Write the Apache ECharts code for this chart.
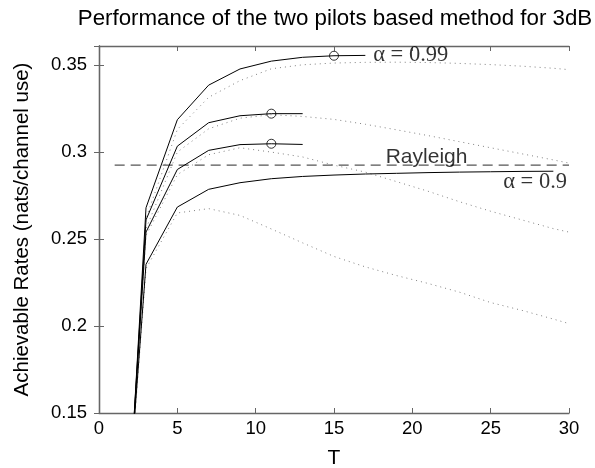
<!DOCTYPE html>
<html>
<head>
<meta charset="utf-8">
<script src="https://cdn.jsdelivr.net/npm/echarts@6/dist/echarts.min.js"></script>
<style>html,body{margin:0;padding:0;background:#fff}#c{width:595px;height:468px}</style>
</head>
<body>
<div id="c"></div>
<script>
// ---- data ----
const xTicks = [0, 5, 10, 15, 20, 25, 30];
const yTicks = [0.15, 0.2, 0.25, 0.3, 0.35];

const T_A = [2, 3, 5, 7, 9, 11, 13, 15, 17];
const solidA = [0.110, 0.268, 0.3186, 0.3385, 0.3478, 0.3523, 0.3545, 0.3554, 0.3556];
const T_B = [2, 3, 5, 7, 9, 11, 13];
const solidB = [0.112, 0.261, 0.3034, 0.3169, 0.3209, 0.3221, 0.3221];
const T_C = [2, 3, 5, 7, 9, 11, 13];
const solidC = [0.113, 0.254, 0.2900, 0.3010, 0.3043, 0.3048, 0.3044];
const T_D = [2, 3, 5, 7, 9, 11, 13, 15, 17, 19, 21, 23, 25, 27, 29];
const solidD = [0.115, 0.2355, 0.2684, 0.2786, 0.2824, 0.2847, 0.2860, 0.2868, 0.2874, 0.2878, 0.2882, 0.2885, 0.2887, 0.2889, 0.2890];

const T_dot = [2, 3, 5, 7, 9, 11, 13, 15, 17, 19, 21, 23, 25, 27, 29, 30];
const dotted1 = [0.108, 0.262, 0.313, 0.3315, 0.3411, 0.3479, 0.3502, 0.3512, 0.3516, 0.3517, 0.3515, 0.3510, 0.3503, 0.3494, 0.3482, 0.3474];
const dotted2 = [0.110, 0.256, 0.300, 0.3134, 0.3195, 0.3215, 0.3205, 0.3188, 0.3160, 0.3128, 0.3095, 0.3060, 0.3025, 0.2990, 0.2955, 0.2937];
const dotted3 = [0.112, 0.252, 0.287, 0.2985, 0.3025, 0.3000, 0.2972, 0.2925, 0.2885, 0.2830, 0.2775, 0.2715, 0.2660, 0.2610, 0.2560, 0.2540];
const dotted4 = [0.113, 0.233, 0.2650, 0.2675, 0.2636, 0.2558, 0.2478, 0.2400, 0.2340, 0.2290, 0.2245, 0.2195, 0.2135, 0.2090, 0.2040, 0.2014];

const T_ray = [1, 30];
const rayleigh = [0.2925, 0.2925];

const circleT = [15, 11, 11];
const circleY = [0.3554, 0.3221, 0.3048];

const annoText = ['α = 0.99', 'Rayleigh', 'α = 0.9'];
const annoT = [17.5, 18.3, 25.8];
const annoY = [0.3557, 0.2972, 0.2828];

// ---- chart ----
const pairs = (xs, ys) => xs.map((x, i) => [x, ys[i]]);
const chart = echarts.init(document.getElementById('c'), null, {renderer: 'canvas'});
const axisCol = '#666';
const sans = '"Liberation Sans", Arial, sans-serif';
const serif = '"Liberation Serif", "Times New Roman", serif';
const near = (v, arr) => arr.some(t => Math.abs(t - v) < 1e-6);
const fmtY = v => near(v, yTicks) ? String(Math.round(v * 100) / 100) : '';

const solid = (xs, ys) => ({type: 'line', data: pairs(xs, ys), symbol: 'none', silent: true,
  lineStyle: {color: '#000', width: 1}, z: 3});
const dot = (ys) => ({type: 'line', data: pairs(T_dot, ys), symbol: 'none', silent: true,
  lineStyle: {color: '#808080', width: 1, type: [1, 4]}, z: 2});

chart.setOption({
  animation: false,
  title: {text: 'Performance of the two pilots based method for 3dB', left: 330, top: 3, textAlign: 'center',
    textStyle: {fontFamily: sans, fontSize: 22.3, fontWeight: 'normal', color: '#000'}},
  grid: {left: 99, right: 26, top: 46, bottom: 55, show: false, containLabel: false, outerBoundsMode: 'none'},
  xAxis: [{type: 'value', min: 0, max: 30, interval: 5, position: 'bottom',
      name: 'T', nameLocation: 'middle', nameGap: 35,
      nameTextStyle: {fontFamily: sans, fontSize: 21, color: '#000'},
      axisLine: {lineStyle: {color: axisCol, width: 1.3}},
      axisTick: {inside: true, length: 5, lineStyle: {color: axisCol}},
      axisLabel: {fontFamily: sans, fontSize: 18.5, color: '#000', margin: 6},
      splitLine: {show: false}},
    {type: 'value', min: 0, max: 30, interval: 5, position: 'top',
      axisLine: {lineStyle: {color: axisCol, width: 1.3}},
      axisTick: {inside: true, length: 5, lineStyle: {color: axisCol}},
      axisLabel: {show: false}, splitLine: {show: false}}],
  yAxis: [{type: 'value', min: 0.15, max: 0.361, interval: 0.05, position: 'left',
      name: 'Achievable Rates (nats/channel use)', nameLocation: 'middle', nameGap: 66,
      nameTextStyle: {fontFamily: sans, fontSize: 20.5, color: '#000'},
      axisLine: {show: true, lineStyle: {color: axisCol, width: 1.3}},
      axisTick: {show: true, inside: true, length: 5, lineStyle: {color: axisCol}},
      axisLabel: {fontFamily: sans, fontSize: 18.5, color: '#000', margin: 12, formatter: fmtY},
      splitLine: {show: false}},
    {type: 'value', min: 0.15, max: 0.361, interval: 0.05, position: 'right',
      axisLine: {show: true, lineStyle: {color: axisCol, width: 1.3}},
      axisTick: {show: true, inside: true, length: 5, lineStyle: {color: axisCol}},
      axisLabel: {show: false}, splitLine: {show: false}}],
  series: [
    dot(dotted1), dot(dotted2), dot(dotted3), dot(dotted4),
    solid(T_A, solidA), solid(T_B, solidB), solid(T_C, solidC), solid(T_D, solidD),
    {type: 'line', data: pairs(T_ray, rayleigh), symbol: 'none', silent: true,
      lineStyle: {color: '#555', width: 1.3, type: [10, 6]}, z: 2},
    {type: 'scatter', data: pairs(circleT, circleY), symbol: 'circle', symbolSize: 9, silent: true,
      itemStyle: {color: 'rgba(0,0,0,0)', borderColor: '#000', borderWidth: 1}, z: 5},
    {type: 'scatter', data: annoT.map((t, i) => ({value: [t, annoY[i]], name: annoText[i],
        label: {fontFamily: i === 1 ? sans : serif, fontSize: i === 1 ? 21 : 22.5}})),
      symbolSize: 0, silent: true,
      label: {show: true, position: 'right', distance: 0, color: '#000', formatter: p => p.name}, z: 6}
  ]
});
</script>
</body>
</html>
